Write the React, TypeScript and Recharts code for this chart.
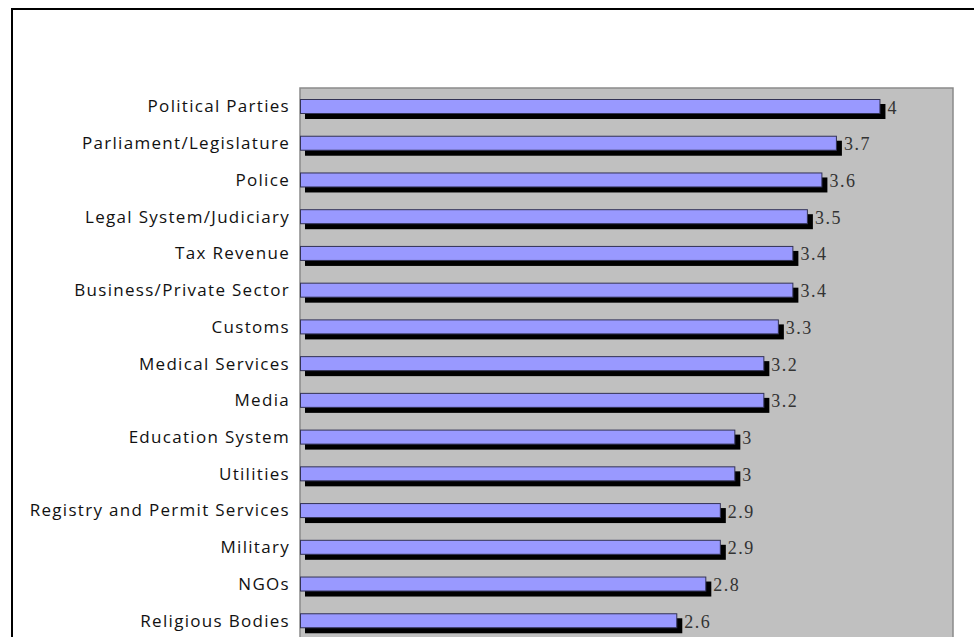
import { Bar, BarChart, LabelList, ReferenceArea, XAxis, YAxis } from "recharts";

const sectors = [
  "Political Parties",
  "Parliament/Legislature",
  "Police",
  "Legal System/Judiciary",
  "Tax Revenue",
  "Business/Private Sector",
  "Customs",
  "Medical Services",
  "Media",
  "Education System",
  "Utilities",
  "Registry and Permit Services",
  "Military",
  "NGOs",
  "Religious Bodies",
];

const scores = [4, 3.7, 3.6, 3.5, 3.4, 3.4, 3.3, 3.2, 3.2, 3, 3, 2.9, 2.9, 2.8, 2.6];

const data = sectors.map((name, i) => ({ name, score: scores[i] }));

// bar with the black drop shadow behind it
// eslint-disable-next-line @typescript-eslint/no-explicit-any
function ShadowBar(props: any) {
  const { x, y, width, height } = props;
  return (
    <g>
      <rect x={x + 5} y={y + 5} width={width} height={height} fill="#000" />
      <rect x={x + 0.5} y={y + 0.5} width={width - 1} height={height - 1} fill="#9999FF" stroke="#333355" strokeWidth={1} />
    </g>
  );
}

// eslint-disable-next-line @typescript-eslint/no-explicit-any
function ValueLabel(props: any) {
  const { x, y, width, height, value } = props;
  return (
    <text
      x={x + width + 7}
      y={y + height / 2 + 1}
      dominantBaseline="central"
      fontFamily="'Liberation Serif', serif"
      fontSize={18}
      letterSpacing={1.5}
      fill="#333"
    >
      {value}
    </text>
  );
}

export default function App() {
  return (
    <div style={{ position: "fixed", left: 0, top: 0, width: 974, height: 637, overflow: "hidden", background: "#fff" }}>
      <div
        style={{
          position: "absolute",
          left: 11,
          top: 8,
          width: 1000,
          height: 700,
          border: "2px solid #000",
          boxSizing: "border-box",
        }}
      />
      <div style={{ position: "absolute", left: 0, top: 0 }}>
        <BarChart
          width={974}
          height={660}
          data={data}
          layout="vertical"
          margin={{ top: 88, right: 21, bottom: 21, left: 0 }}
        >
          <XAxis type="number" domain={[0, 4.5]} hide />
          <YAxis
            type="category"
            dataKey="name"
            width={300}
            tickLine={false}
            axisLine={false}
            tickSize={0}
            tickMargin={10}
            interval={0}
            tick={{ fill: "#111", fontSize: 17, fontFamily: "'Open Sans', sans-serif", letterSpacing: 1.3 }}
          />
          <ReferenceArea x1={0} x2={4.5} fill="#C0C0C0" fillOpacity={1} stroke="#8a8a8a" strokeWidth={1.5} />
          <Bar dataKey="score" barSize={15} shape={<ShadowBar />} isAnimationActive={false}>
            <LabelList dataKey="score" content={<ValueLabel />} />
          </Bar>
        </BarChart>
      </div>
    </div>
  );
}
